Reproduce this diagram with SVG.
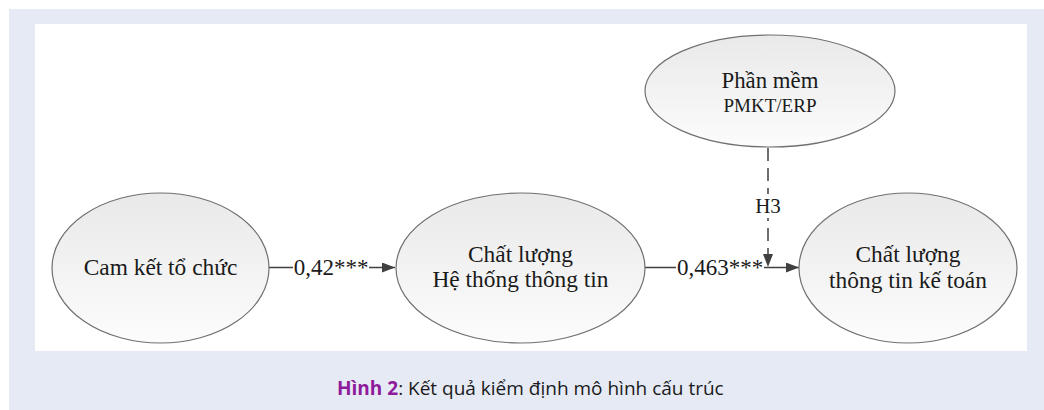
<svg xmlns="http://www.w3.org/2000/svg" width="1044" height="410" viewBox="0 0 1044 410">
  <defs>
    <linearGradient id="nodeFill" x1="0" y1="0" x2="0" y2="1">
      <stop offset="0" stop-color="#e9e9e9"/>
      <stop offset="1" stop-color="#fcfcfc"/>
    </linearGradient>
    <marker id="arrow" viewBox="0 0 13 10" refX="13" refY="5" markerWidth="13" markerHeight="10" markerUnits="userSpaceOnUse" orient="auto">
      <path d="M0,0 L13,5 L0,10 Z" fill="#404040"/>
    </marker>
    <style>
      .node ellipse { fill: url(#nodeFill); stroke: #707070; stroke-width: 1.2; }
      .lbl { font-family: "Liberation Serif", "Times New Roman", serif; fill: #1a1a1a; text-anchor: middle; }
      .edge { stroke: #404040; stroke-width: 1.5; fill: none; }
      .dash { stroke-dasharray: 13 7; }
      .caption { font-family: "Open Sans", "Noto Sans", sans-serif; font-size: 19px; fill: #1a1a1a; }
    </style>
  </defs>

  <!-- page background and figure panel -->
  <rect x="9" y="9" width="1035" height="401" fill="#e6eaf5"/>
  <rect x="35" y="24" width="992" height="327" fill="#ffffff"/>

  <!-- connectors -->
  <g id="connectors">
    <path class="edge" d="M269,267.5 H395" marker-end="url(#arrow)"/>
    <rect x="293" y="252" width="76" height="28" fill="#ffffff"/>
    <text class="lbl" x="331" y="275" font-size="23">0,42***</text>

    <path class="edge" d="M645,267.5 H799" marker-end="url(#arrow)"/>
    <rect x="676" y="252" width="88" height="28" fill="#ffffff"/>
    <text class="lbl" x="720" y="275" font-size="23">0,463***</text>

    <path class="edge dash" d="M768,148 V267" marker-end="url(#arrow)"/>
    <rect x="752" y="194" width="32" height="24" fill="#ffffff"/>
    <text class="lbl" x="768" y="213" font-size="21">H3</text>
  </g>

  <!-- nodes -->
  <g id="node-cam-ket" class="node">
    <ellipse cx="160.5" cy="268" rx="108.5" ry="75"/>
    <text class="lbl" x="160.5" y="275" font-size="23.4">Cam kết tổ chức</text>
  </g>

  <g id="node-chat-luong-httt" class="node">
    <ellipse cx="520.5" cy="268" rx="124.5" ry="75"/>
    <text class="lbl" x="520.5" y="262" font-size="23.4">Chất lượng</text>
    <text class="lbl" x="520.5" y="287" font-size="23.4">Hệ thống thông tin</text>
  </g>

  <g id="node-phan-mem" class="node">
    <ellipse cx="770" cy="91" rx="125" ry="56"/>
    <text class="lbl" x="770" y="88" font-size="22.8">Phần mềm</text>
    <text class="lbl" x="770" y="112" font-size="19">PMKT/ERP</text>
  </g>

  <g id="node-chat-luong-ttkt" class="node">
    <ellipse cx="908" cy="268" rx="109" ry="75"/>
    <text class="lbl" x="908" y="262" font-size="23.4">Chất lượng</text>
    <text class="lbl" x="908" y="288" font-size="23.4">thông tin kế toán</text>
  </g>

  <!-- caption -->
  <text class="caption" x="337" y="395"><tspan font-weight="bold" fill="#8e1b9b">Hình 2</tspan>: Kết quả kiểm định mô hình cấu trúc</text>
</svg>
